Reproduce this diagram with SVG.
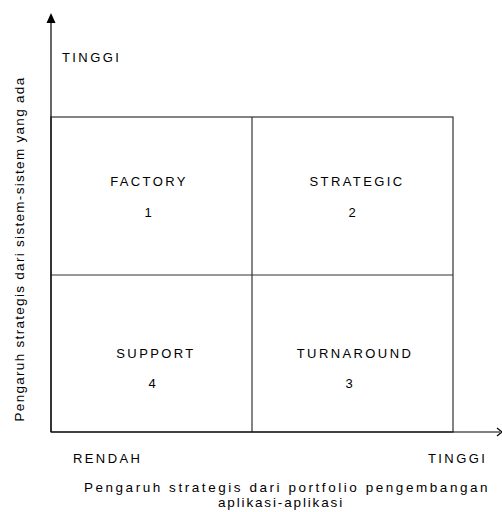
<svg xmlns="http://www.w3.org/2000/svg" width="502" height="512" viewBox="0 0 502 512">
  <style>
    text { font-family: "Liberation Sans", Arial, sans-serif; fill: #000; }
    .lbl { font-size: 13px; letter-spacing: 2.4px; }
    .num { font-size: 13px; }
    .title { font-size: 13.5px; letter-spacing: 2.55px; }
    .ytitle { font-size: 13.5px; letter-spacing: 1.3px; }
    .title2 { font-size: 13.5px; letter-spacing: 1.85px; }
    .grid { fill: none; stroke: #333; stroke-width: 1.2; }
    .axis { fill: none; stroke: #000; stroke-width: 1.2; }
  </style>
  <rect width="502" height="512" fill="#fff"/>

  <!-- quadrant grid -->
  <g id="grid">
    <rect class="grid" x="51" y="117" width="402" height="315"/>
    <line class="grid" x1="252" y1="117" x2="252" y2="432"/>
    <line class="grid" x1="51" y1="275" x2="453" y2="275"/>
  </g>

  <!-- axes -->
  <g id="axes">
    <line class="axis" x1="51" y1="22" x2="51" y2="432"/>
    <polygon points="51,13 46.5,23 55.5,23" fill="#000"/>
    <line class="axis" x1="51" y1="432" x2="500" y2="432"/>
    <polyline class="axis" points="497,428 502,432 497,436" stroke-width="0.9"/>
  </g>

  <g id="factory">
    <text class="lbl" x="149" y="186" text-anchor="middle">FACTORY</text>
    <text class="num" x="148" y="217" text-anchor="middle">1</text>
  </g>
  <g id="strategic">
    <text class="lbl" x="357" y="186" text-anchor="middle">STRATEGIC</text>
    <text class="num" x="352" y="217" text-anchor="middle">2</text>
  </g>
  <g id="support">
    <text class="lbl" x="156" y="358" text-anchor="middle">SUPPORT</text>
    <text class="num" x="152" y="388" text-anchor="middle">4</text>
  </g>
  <g id="turnaround">
    <text class="lbl" x="355" y="358" text-anchor="middle">TURNAROUND</text>
    <text class="num" x="349" y="388" text-anchor="middle">3</text>
  </g>

  <!-- axis labels -->
  <text class="lbl" x="62" y="62">TINGGI</text>
  <text class="lbl" x="73" y="463">RENDAH</text>
  <text class="lbl" x="428" y="463">TINGGI</text>
  <text class="title" x="287" y="492" text-anchor="middle">Pengaruh strategis dari portfolio pengembangan</text>
  <text class="title2" x="281" y="507" text-anchor="middle">aplikasi-aplikasi</text>
  <text class="ytitle" transform="translate(24,249) rotate(-90)" text-anchor="middle">Pengaruh strategis dari sistem-sistem yang ada</text>
</svg>
